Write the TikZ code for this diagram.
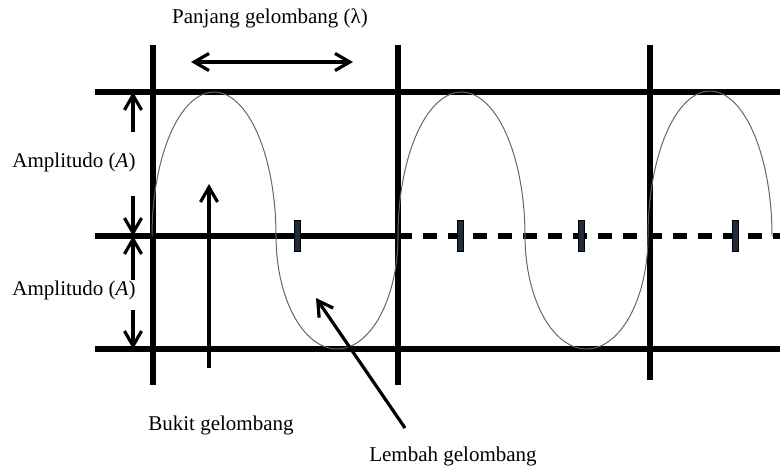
\documentclass[tikz,border=0pt]{standalone}
\usepackage{fontspec}
\setmainfont{Liberation Serif}
\usepackage{xcolor}
\usetikzlibrary{positioning, arrows.meta}
\definecolor{tickblue}{RGB}{32,44,62}

\begin{document}
\begin{tikzpicture}[
    x=0.5pt, y=-0.5pt,
    label/.style={inner sep=1pt, font=\fontsize{10.5}{12}\selectfont},
    gridline/.style={line width=2.6pt},
    wave/.style={gray!80!black, line width=0.5pt},
    arrow/.style={-{Straight Barb[length=2.6mm, width=3mm]}, line width=1.6pt},
    dblarrow/.style={{Straight Barb[length=2.6mm, width=3mm]}-{Straight Barb[length=2.6mm, width=3mm]}, line width=1.6pt},
    tickmark/.style={draw=black, fill=tickblue, line width=0.4pt, minimum width=3pt, minimum height=15.5pt, inner sep=0pt}
]
\useasboundingbox (0,0) rectangle (780,468);

\draw[gridline] (95,92) -- (780,92);
\draw[gridline] (95,236) -- (398,236);
\draw[gridline, dash pattern=on 7pt off 5.5pt] (398,236) -- (780,236);
\draw[gridline] (95,349) -- (780,349);
\draw[gridline] (153,45) -- (153,385);
\draw[gridline] (398,45) -- (398,385);
\draw[gridline] (650,45) -- (650,380);

\draw[wave, samples=60]
    plot[domain=180:0] ({214+62*cos(\x)}, {236-144*sin(\x)})
 -- plot[domain=180:360] ({337+61*cos(\x)}, {236-113*sin(\x)})
 -- plot[domain=180:0] ({461.5+63.5*cos(\x)}, {236-144*sin(\x)})
 -- plot[domain=180:360] ({586.5+61.5*cos(\x)}, {236-113*sin(\x)})
 -- plot[domain=180:0] ({710+62*cos(\x)}, {236-145*sin(\x)});

\node[tickmark] (t1) at (297,236) {};
\node[tickmark] (t2) at (460,236) {};
\node[tickmark] (t3) at (581,236) {};
\node[tickmark] (t4) at (735,236) {};

\node[label] (lambda) at (270,18) {Panjang gelombang (λ)};
\coordinate (lamL) at (191,62);
\coordinate (lamR) at (353,62);
\draw[dblarrow] (lamL) -- (lamR);

\node[label] (amp1) at (74,162) {Amplitudo (\textit{A})};
\node[label] (amp2) at (74,290) {Amplitudo (\textit{A})};
\coordinate (top) at (133,92);
\coordinate (mid) at (133,236);
\coordinate (bot) at (133,349);
\coordinate (a1) at (133,132);
\coordinate (a2) at (133,196);
\coordinate (a3) at (133,280);
\coordinate (a4) at (133,310);
\draw[arrow] (a1) -- (top);
\draw[arrow] (a2) -- (mid);
\draw[arrow] (a3) -- (mid);
\draw[arrow] (a4) -- (bot);

\node[label] (bukit) at (221,425) {Bukit gelombang};
\coordinate (bukitTail) at (209,368);
\coordinate (bukitHead) at (209,184);
\draw[arrow] (bukitTail) -- (bukitHead);

\node[label] (lembah) at (453,456) {Lembah gelombang};
\coordinate (lembahTail) at (405,428);
\coordinate (lembahHead) at (316,298);
\draw[arrow] (lembahTail) -- (lembahHead);

\end{tikzpicture}
\end{document}
